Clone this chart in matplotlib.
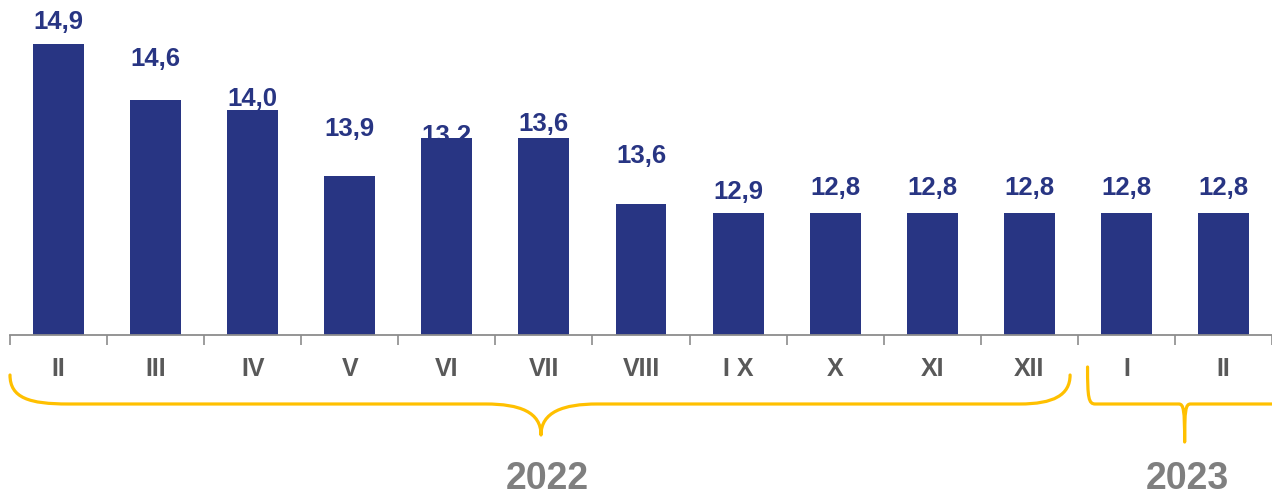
import matplotlib
matplotlib.use("Agg")
import matplotlib.pyplot as plt
from matplotlib.path import Path
from matplotlib.patches import PathPatch
import matplotlib.transforms as mtransforms

plt.rcParams['font.family'] = ['Liberation Sans', 'DejaVu Sans']
plt.rcParams['font.weight'] = 'bold'

# data
months = ['II', 'III', 'IV', 'V', 'VI', 'VII', 'VIII', 'I X', 'X', 'XI', 'XII', 'I', 'II']
bar_heights = [14.9, 14.2, 14.08, 13.26, 13.73, 13.73, 12.91, 12.8, 12.8, 12.8, 12.8, 12.8, 12.8]
label_text = ['14,9', '14,6', '14,0', '13,9', '13,2', '13,6', '13,6', '12,9',
              '12,8', '12,8', '12,8', '12,8', '12,8']
label_y = [15.09, 14.63, 14.13, 13.76, 13.67, 13.82, 13.42, 12.97,
           13.02, 13.02, 13.02, 13.02, 13.02]
years = ['2022', '2023']
year_x = [5.03, 11.63]

navy = '#283583'
gold = '#FFC000'

W, H = 1272, 497
fig = plt.figure(figsize=(W / 100, H / 100), dpi=100)
ax = fig.add_axes([10 / W, 162 / H, 1 - 10 / W, 1 - 162 / H])

x = list(range(len(months)))
ax.bar(x, bar_heights, width=0.525, color=navy, zorder=2)
for xi, t, ly in zip(x, label_text, label_y):
    ax.text(xi, ly, t, ha='center', va='baseline', fontsize=18.5,
            fontweight='bold', color=navy, zorder=1)

ax.set_xlim(-0.5, 12.5)
ax.set_ylim(11.284, 15.447)
for s in ['top', 'right', 'left']:
    ax.spines[s].set_visible(False)
ax.spines['bottom'].set_color('#8c8c8c')
ax.spines['bottom'].set_linewidth(1.3)
ax.set_yticks([])
ax.set_xticks(x)
ax.set_xticklabels(months, fontsize=18, fontweight='bold', color='#595959')
ax.tick_params(axis='x', which='major', length=0, pad=16)
ax.set_xticks([i - 0.5 for i in range(len(months) + 1)], minor=True)
ax.tick_params(axis='x', which='minor', length=7, width=1.2, color='#8c8c8c',
               direction='out')

# braces: x in data units, y in pixels from top of the figure
trans = mtransforms.blended_transform_factory(ax.transData, fig.transFigure)


def py(v):
    return (H - v) / H


def brace(pts, codes):
    verts = [(a, py(b)) for a, b in pts]
    patch = PathPatch(Path(verts, codes), facecolor='none', edgecolor=gold,
                      lw=2.3, transform=trans, clip_on=False,
                      capstyle='round', joinstyle='round')
    fig.add_artist(patch)


M, L, C = Path.MOVETO, Path.LINETO, Path.CURVE4
brace([(-0.5, 375), (-0.5, 398), (-0.3, 404), (0.1, 404),
       (4.4, 404),
       (4.75, 404), (4.97, 412), (4.97, 435),
       (4.97, 412), (5.2, 404), (5.55, 404),
       (9.9, 404),
       (10.25, 404), (10.42, 395), (10.42, 375)],
      [M, C, C, C, L, C, C, C, C, C, C, L, C, C, C])
brace([(10.6, 367), (10.6, 398), (10.61, 404), (10.68, 404),
       (11.54, 404),
       (11.59, 404), (11.6, 410), (11.6, 442),
       (11.6, 410), (11.61, 404), (11.66, 404),
       (12.8, 404)],
      [M, C, C, C, L, C, C, C, C, C, C, L])

for yx, yt in zip(year_x, years):
    fig.text(yx, 0.0, yt, transform=trans, ha='center', va='bottom',
             fontsize=27, color='#7f7f7f', fontweight='bold')

fig.savefig('out.png', dpi=100)
